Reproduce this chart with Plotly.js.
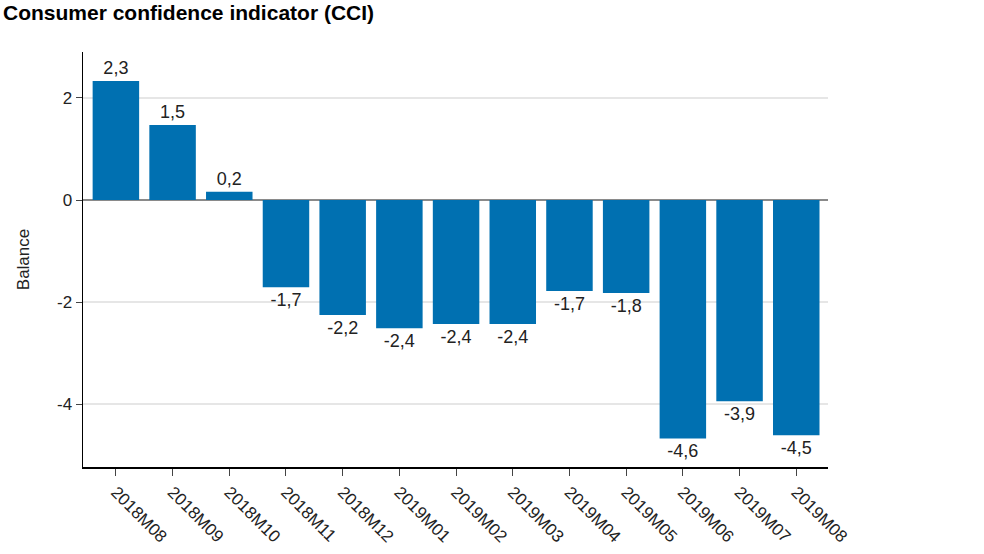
<!DOCTYPE html>
<html>
<head>
<meta charset="utf-8">
<script src="https://cdn.plot.ly/plotly-3.0.1.min.js"></script>
<style>
  html, body { margin: 0; padding: 0; background: #fff; }
  #chart { width: 984px; height: 554px; }
</style>
</head>
<body>
<div id="chart"></div>
<script>
// months on the x axis
const months = ['2018M08', '2018M09', '2018M10', '2018M11', '2018M12', '2019M01',
  '2019M02', '2019M03', '2019M04', '2019M05', '2019M06', '2019M07', '2019M08'];
// bar heights
const balance = [2.33, 1.47, 0.16, -1.71, -2.25, -2.51, -2.43, -2.43, -1.78, -1.82, -4.67, -3.94, -4.61];
// printed value labels
const labels = ['2,3', '1,5', '0,2', '-1,7', '-2,2', '-2,4', '-2,4', '-2,4', '-1,7', '-1,8', '-4,6', '-3,9', '-4,5'];
const yTicks = [-4, -2, 0, 2];

const BAR_COLOR = '#0070b1';
const FONT = 'Liberation Sans, Arial, sans-serif';

const trace = {
  type: 'bar',
  x: months,
  y: balance,
  text: labels,
  textposition: 'outside',
  cliponaxis: false,
  textfont: { family: FONT, size: 18, color: '#222' },
  marker: { color: BAR_COLOR },
  hoverinfo: 'none'
};

const layout = {
  width: 984,
  height: 554,
  margin: { t: 52, r: 156, b: 87, l: 83 },
  paper_bgcolor: '#fff',
  plot_bgcolor: '#fff',
  font: { family: FONT, size: 17, color: '#222' },
  title: {
    text: '<b>Consumer confidence indicator (CCI)</b>',
    font: { family: FONT, size: 21, color: '#000' },
    x: 3 / 984, xanchor: 'left', xref: 'container',
    y: 1 - 13 / 554, yanchor: 'middle', yref: 'container'
  },
  bargap: 0.18,
  showlegend: false,
  xaxis: {
    type: 'category',
    range: [-0.58, 12.56],
    tickangle: 45,
    ticks: 'outside',
    ticklen: 7,
    tickcolor: '#444',
    tickfont: { family: FONT, size: 17, color: '#222' },
    showline: true,
    linecolor: '#000',
    linewidth: 1.5,
    showgrid: false,
    zeroline: false
  },
  yaxis: {
    range: [-5.23, 2.9],
    tickvals: yTicks,
    ticktext: yTicks.map(String),
    ticks: 'outside',
    ticklen: 6,
    tickcolor: '#444',
    tickfont: { family: FONT, size: 17, color: '#222' },
    showline: true,
    linecolor: '#000',
    linewidth: 1.5,
    showgrid: true,
    gridcolor: '#e6e6e6',
    gridwidth: 1.5,
    zeroline: true,
    zerolinecolor: '#8a8a8a',
    zerolinewidth: 2,
    title: { text: 'Balance', font: { family: FONT, size: 17, color: '#222' }, standoff: 23 }
  }
};

Plotly.newPlot('chart', [trace], layout, { displayModeBar: false, staticPlot: true });
</script>
</body>
</html>
